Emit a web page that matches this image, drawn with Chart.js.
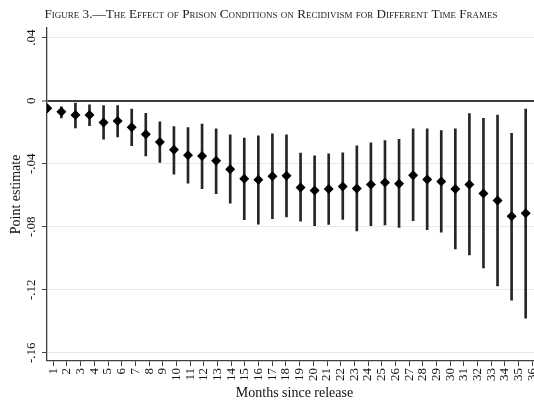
<!DOCTYPE html>
<html><head><meta charset="utf-8">
<script src="https://cdn.jsdelivr.net/npm/chart.js@4"></script>
<style>
html,body{margin:0;padding:0;background:#fff;overflow:hidden;}
#wrap{position:relative;width:562px;height:405px;}
</style></head><body>
<div id="wrap"><canvas id="c" width="562" height="405"></canvas></div>
<script>
const months = [1,2,3,4,5,6,7,8,9,10,11,12,13,14,15,16,17,18,19,20,21,22,23,24,25,26,27,28,29,30,31,32,33,34,35];
const estimates = [-0.0049,-0.0070,-0.0091,-0.0091,-0.0139,-0.0129,-0.0169,-0.0213,-0.0262,-0.0312,-0.0346,-0.0351,-0.0382,-0.0435,-0.0496,-0.0502,-0.0479,-0.0477,-0.0551,-0.0570,-0.0561,-0.0544,-0.0557,-0.0532,-0.0519,-0.0527,-0.0473,-0.0500,-0.0513,-0.0561,-0.0532,-0.0589,-0.0633,-0.0734,-0.0715];
const ciHigh = [-0.0030,-0.0040,-0.0015,-0.0027,-0.0032,-0.0032,-0.0053,-0.0080,-0.0135,-0.0165,-0.0171,-0.0148,-0.0179,-0.0217,-0.0238,-0.0224,-0.0211,-0.0217,-0.0333,-0.0350,-0.0338,-0.0331,-0.0287,-0.0268,-0.0253,-0.0245,-0.0179,-0.0179,-0.0190,-0.0179,-0.0082,-0.0112,-0.0091,-0.0207,-0.0053];
const ciLow = [-0.0068,-0.0110,-0.0173,-0.0158,-0.0245,-0.0230,-0.0285,-0.0350,-0.0392,-0.0466,-0.0523,-0.0559,-0.0591,-0.0650,-0.0755,-0.0783,-0.0749,-0.0738,-0.0764,-0.0793,-0.0785,-0.0753,-0.0827,-0.0793,-0.0789,-0.0804,-0.0762,-0.0819,-0.0835,-0.0941,-0.0979,-0.1061,-0.1175,-0.1266,-0.1380];
const xTickValues = [1,2,3,4,5,6,7,8,9,10,11,12,13,14,15,16,17,18,19,20,21,22,23,24,25,26,27,28,29,30,31,32,33,34,35,36];
const xTickLabels = xTickValues.map(String);
const yTickValues = [-0.16,-0.12,-0.08,-0.04,0,0.04];
const yTickLabels = ['-.16','-.12','-.08','-.04','0','.04'];
const titleText = 'Figure 3.—The Effect of Prison Conditions on Recidivism for Different Time Frames';
const xTitle = 'Months since release';
const yTitle = 'Point estimate';

const SERIF = "'Liberation Serif', 'Times New Roman', serif";
const axisDark = '#404040';

new Chart(document.getElementById('c'), {
  type: 'bar',
  data: {
    datasets: [
      {
        type: 'line',
        label: 'Point estimate',
        data: months.map((m, i) => ({x: m, y: estimates[i]})),
        xAxisID: 'xd', yAxisID: 'y',
        showLine: false,
        pointStyle: 'rectRot',
        pointRadius: 5,
        pointBackgroundColor: '#000',
        pointBorderColor: '#000',
        pointBorderWidth: 0,
        order: 0
      },
      {
        type: 'bar',
        label: 'CI',
        data: months.map((m, i) => ({x: m, y: [ciLow[i], ciHigh[i]]})),
        xAxisID: 'xd', yAxisID: 'y',
        backgroundColor: '#262626',
        borderWidth: 0,
        barThickness: 2,
        order: 1
      }
    ]
  },
  options: {
    responsive: false,
    animation: false,
    layout: {padding: {left: 0, right: 20, top: 0, bottom: 0}},
    plugins: {
      legend: {display: false},
      tooltip: {enabled: false},
      title: {
        display: true,
        text: titleText,
        color: '#222',
        font: {family: SERIF, size: 13.2, weight: 'small-caps'},
        padding: {top: 6.5, bottom: 5.5}
      }
    },
    scales: {
      xd: {type: 'linear', display: false, offset: false, grid: {offset: false}, min: 0.979, max: 36.16},
      x: {
        type: 'linear', position: 'bottom', offset: false, min: 0.540, max: 36.71,
        afterBuildTicks: s => { s.ticks = xTickValues.map(v => ({value: v})); },
        afterFit: s => { s.height = 44; },
        ticks: {
          callback: v => xTickLabels[xTickValues.indexOf(v)],
          autoSkip: false, minRotation: 90, maxRotation: 90, padding: 2,
          color: '#111', font: {family: SERIF, size: 13}
        },
        grid: {offset: false, drawOnChartArea: false, drawTicks: true, tickLength: 5, tickColor: axisDark, tickWidth: 1},
        border: {display: true, color: axisDark, width: 1.3},
        title: {display: true, text: xTitle, color: '#111', font: {family: SERIF, size: 14}, padding: {top: 0, bottom: 3}}
      },
      y: {
        type: 'linear', position: 'left', min: -0.1652, max: 0.0462,
        afterBuildTicks: s => { s.ticks = yTickValues.map(v => ({value: v})); },
        afterFit: s => { s.width = 47; },
        ticks: {
          callback: v => yTickLabels[yTickValues.indexOf(v)],
          minRotation: 90, maxRotation: 90, crossAlign: 'center', padding: 0,
          color: '#111', font: {family: SERIF, size: 13}
        },
        grid: {
          color: c => (c.tick && c.tick.value === 0) ? '#3c3c3c' : '#e9e9e9',
          lineWidth: c => (c.tick && c.tick.value === 0) ? 2 : 1,
          tickLength: 5, tickColor: axisDark, tickWidth: 1
        },
        border: {display: true, color: axisDark, width: 1.3},
        title: {display: true, text: yTitle, color: '#111', font: {family: SERIF, size: 14}, padding: {top: 7.6, bottom: 0}}
      }
    }
  }
});
</script>
</body></html>
